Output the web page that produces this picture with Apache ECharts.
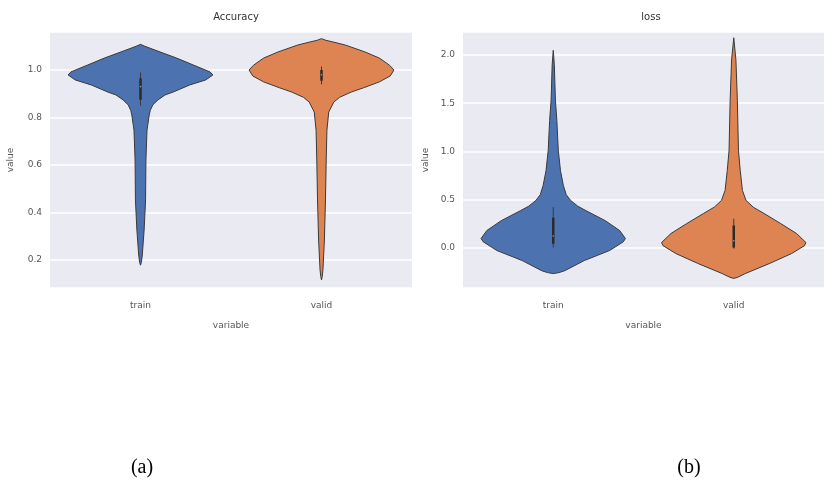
<!DOCTYPE html>
<html>
<head>
<meta charset="utf-8">
<script src="https://cdn.jsdelivr.net/npm/echarts@6/dist/echarts.min.js"></script>
<style>html,body{margin:0;padding:0;background:#fff}#c{width:826px;height:480px}</style>
</head>
<body>
<div id="c"></div>
<script>
const categories = ['train', 'valid'];
const panelTitles = ['Accuracy', 'loss'];
const captions = ['(a)', '(b)'];
const xName = 'variable';
const yName = 'value';

// Accuracy violins: sampled values (y) and relative density (0..1)
const accTrainY = [1.108, 1.1, 1.084, 1.05, 1.021, 0.992, 0.979, 0.958, 0.937, 0.907, 0.895, 0.874, 0.853, 0.83, 0.81, 0.747, 0.621, 0.453, 0.326, 0.221, 0.19, 0.178];
const accTrainD = [0, 0.06, 0.2, 0.5, 0.73, 0.96, 1.0, 0.9, 0.68, 0.45, 0.34, 0.24, 0.17, 0.135, 0.12, 0.09, 0.075, 0.07, 0.05, 0.025, 0.012, 0];
const accValidY = [1.132, 1.125, 1.118, 1.105, 1.076, 1.05, 1.02, 1.0, 0.975, 0.95, 0.925, 0.907, 0.885, 0.865, 0.823, 0.747, 0.621, 0.453, 0.284, 0.158, 0.13, 0.116];
const accValidD = [0, 0.06, 0.16, 0.33, 0.6, 0.8, 0.94, 1.0, 0.95, 0.8, 0.58, 0.41, 0.25, 0.17, 0.1, 0.075, 0.065, 0.055, 0.04, 0.02, 0.01, 0];
// Loss violins
const lossTrainY = [2.05, 1.9, 1.53, 1.32, 1.01, 0.80, 0.646, 0.55, 0.49, 0.43, 0.385, 0.28, 0.177, 0.094, 0.06, -0.031, -0.135, -0.24, -0.26, -0.27];
const lossTrainD = [0, 0.015, 0.03, 0.05, 0.07, 0.1, 0.14, 0.18, 0.24, 0.34, 0.45, 0.72, 0.92, 1.0, 0.97, 0.78, 0.43, 0.16, 0.08, 0];
const lossValidY = [2.18, 1.95, 1.53, 1.01, 0.80, 0.594, 0.49, 0.42, 0.354, 0.25, 0.146, 0.052, 0.02, -0.0625, -0.167, -0.27, -0.31, -0.32];
const lossValidD = [0, 0.03, 0.05, 0.065, 0.09, 0.12, 0.17, 0.27, 0.42, 0.65, 0.87, 1.0, 0.98, 0.8, 0.49, 0.16, 0.05, 0];

// Inner box stats: [whiskerLow, q1, median, q3, whiskerHigh]
const accTrainBox = [0.85, 0.875, 0.93, 0.965, 0.99];
const accValidBox = [0.94, 0.955, 0.98, 1.0, 1.015];
const lossTrainBox = [0.0, 0.04, 0.12, 0.31, 0.42];
const lossValidBox = [-0.01, 0.0, 0.07, 0.23, 0.3];

const colors = ['#4C72B0', '#DD8452'];
const outline = '#3a3a3a';

function violinSeries(gridIdx, catIdx, ys, ds, box) {
  return {
    type: 'custom',
    coordinateSystem: 'cartesian2d',
    xAxisIndex: gridIdx,
    yAxisIndex: gridIdx,
    data: [[catIdx, box[2]]],
    renderItem: function (params, api) {
      const cat = api.value(0);
      const band = api.size([1, 0])[0];
      const half = 0.4 * band;
      const left = [], right = [];
      for (let i = 0; i < ys.length; i++) {
        const p = api.coord([cat, ys[i]]);
        left.push([p[0] - ds[i] * half, p[1]]);
        right.push([p[0] + ds[i] * half, p[1]]);
      }
      const pts = left.concat(right.reverse());
      const wl = api.coord([cat, box[0]]);
      const q1 = api.coord([cat, box[1]]);
      const md = api.coord([cat, box[2]]);
      const q3 = api.coord([cat, box[3]]);
      const wh = api.coord([cat, box[4]]);
      return {
        type: 'group',
        children: [
          { type: 'polygon', shape: { points: pts }, style: { fill: colors[catIdx], stroke: outline, lineWidth: 1, lineJoin: 'round' } },
          { type: 'line', shape: { x1: wl[0], y1: wl[1], x2: wh[0], y2: wh[1] }, style: { stroke: '#3a3a3a', lineWidth: 1 } },
          { type: 'line', shape: { x1: q1[0], y1: q1[1], x2: q3[0], y2: q3[1] }, style: { stroke: '#2a2a2a', lineWidth: 2.5 } },
          { type: 'circle', shape: { cx: md[0], cy: md[1], r: 0.8 }, style: { fill: '#9a9a9a' } }
        ]
      };
    }
  };
}

const gridBase = { show: true, backgroundColor: '#EAEAF2', borderWidth: 0, top: 32, bottom: 192 };
const fontFam = 'DejaVu Sans';
function xAx(gi) {
  return {
    type: 'category', gridIndex: gi, data: categories, boundaryGap: true,
    axisLine: { show: false }, axisTick: { show: false },
    axisLabel: { color: '#555', fontSize: 9, margin: 13, fontFamily: fontFam },
    splitLine: { show: false },
    name: xName, nameLocation: 'middle', nameGap: 33,
    nameTextStyle: { color: '#555', fontSize: 9, fontFamily: fontFam }
  };
}
function yAx(gi, min, max, gap) {
  return {
    type: 'value', gridIndex: gi, min: min, max: max, splitNumber: 5,
    axisLine: { show: false }, axisTick: { show: false },
    axisLabel: { color: '#555', fontSize: 9, margin: 8, fontFamily: fontFam, showMinLabel: false, showMaxLabel: false,
      formatter: v => v.toFixed(1) },
    splitLine: { lineStyle: { color: '#ffffff', width: 1.5 } },
    name: yName, nameLocation: 'middle', nameGap: gap,
    nameTextStyle: { color: '#555', fontSize: 9, fontFamily: fontFam }
  };
}

const chart = echarts.init(document.getElementById('c'), null, { renderer: 'canvas' });
chart.setOption({
  animation: false,
  backgroundColor: '#ffffff',
  title: [
    { text: panelTitles[0], left: 231, top: 7, textAlign: 'center', textStyle: { fontSize: 10, fontWeight: 'normal', color: '#333', fontFamily: fontFam } },
    { text: panelTitles[1], left: 646, top: 7, textAlign: 'center', textStyle: { fontSize: 10, fontWeight: 'normal', color: '#333', fontFamily: fontFam } },
    { text: captions[0], left: 137, top: 453, textAlign: 'center', textStyle: { fontSize: 20, fontWeight: 'normal', color: '#000', fontFamily: 'Liberation Serif' } },
    { text: captions[1], left: 684, top: 453, textAlign: 'center', textStyle: { fontSize: 20, fontWeight: 'normal', color: '#000', fontFamily: 'Liberation Serif' } }
  ],
  grid: [
    Object.assign({}, gridBase, { left: 50, right: 414 }),
    Object.assign({}, gridBase, { left: 463, right: 2 })
  ],
  xAxis: [xAx(0), xAx(1)],
  yAxis: [yAx(0, 0.082, 1.16, 35), yAx(1, -0.42, 2.24, 33)],
  series: [
    violinSeries(0, 0, accTrainY, accTrainD, accTrainBox),
    violinSeries(0, 1, accValidY, accValidD, accValidBox),
    violinSeries(1, 0, lossTrainY, lossTrainD, lossTrainBox),
    violinSeries(1, 1, lossValidY, lossValidD, lossValidBox)
  ]
});
</script>
</body>
</html>
